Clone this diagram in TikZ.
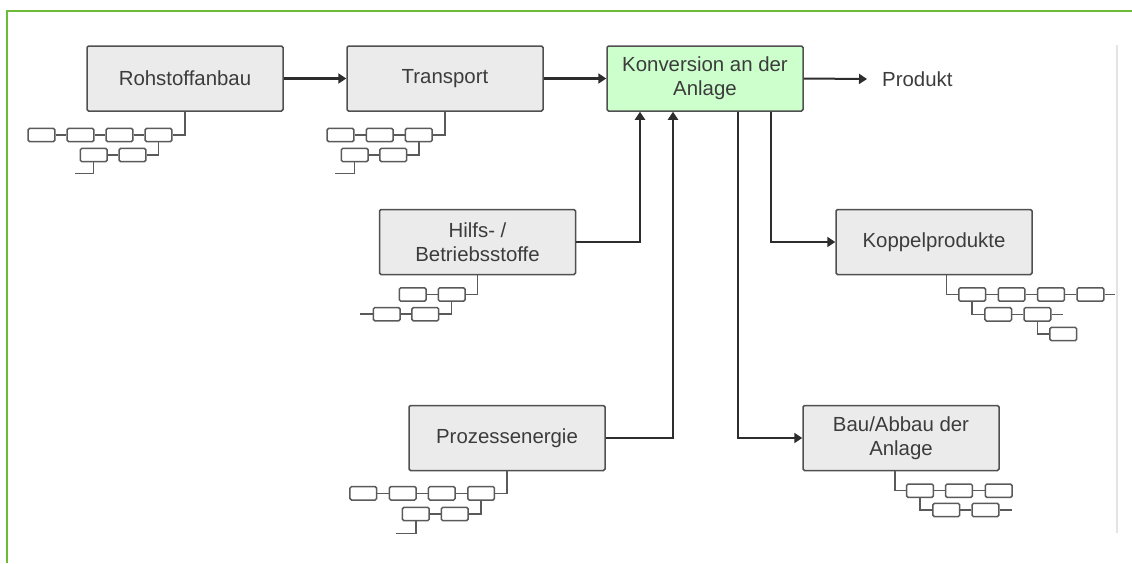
\documentclass[tikz,border=0pt]{standalone}
\usepackage{fontspec}
\setmainfont{Liberation Sans}
\usetikzlibrary{arrows.meta,calc}

\definecolor{frame}{RGB}{108,187,56}
\definecolor{boxline}{RGB}{80,80,80}
\definecolor{boxfill}{RGB}{235,235,235}
\definecolor{convfill}{RGB}{204,255,204}
\definecolor{txt}{RGB}{60,60,60}
\definecolor{wire}{RGB}{45,45,45}
\definecolor{cellline}{RGB}{90,90,90}
\definecolor{rule}{RGB}{228,228,228}

\tikzset{
  stage/.style={draw=boxline, line width=1.5pt, fill=boxfill, rounded corners=1.5pt,
    minimum width=196pt, minimum height=65pt, inner sep=2pt, align=center,
    text=txt, font=\fontsize{20.4}{24}\selectfont},
  cell/.style={draw=cellline, line width=1.5pt, fill=white, rounded corners=1.5pt,
    minimum width=26.7pt, minimum height=13.4pt, inner sep=0pt},
  link/.style={draw=cellline, line width=1.5pt},
  arr/.style={draw=wire, line width=2.3pt, -{Triangle[length=8pt,width=10pt]}},
  plain/.style={text=txt, font=\fontsize{20.4}{24}\selectfont, inner sep=0pt}
}

\begin{document}
\begin{tikzpicture}[x=1pt,y=-1pt]
\useasboundingbox (0,0) rectangle (1132,563);

% frame lines
\draw[frame, line width=2.5pt] (7,563) -- (7,11) -- (1132,11);
\draw[rule, line width=2pt] (1117,45) -- (1117,533);

% process stages
\node[stage] (roh)   at (185,78.5)  {Rohstoffanbau};
\node[stage] (tra)   at (445,78.5)  {Transport};
\node[stage, fill=convfill] (kon) at (705,78.5) {Konversion an der\\Anlage};
\node[stage] (hilfs) at (477.5,242) {Hilfs- /\\Betriebsstoffe};
\node[stage] (kop)   at (934,242)   {Koppelprodukte};
\node[stage] (proz)  at (507,438)   {Prozessenergie};
\node[stage] (bau)   at (901,438)   {Bau/Abbau der\\Anlage};
\node[plain, anchor=west] (prod) at (882,79) {Produkt};

% main flow
\draw[arr] (roh.east) -- (tra.west);
\draw[arr] (tra.east) -- (kon.west);
\draw[arr, line width=2pt] (kon.east) -- ([xshift=-15pt]prod.west);
\draw[arr] (hilfs.east) -| ([xshift=-65pt]kon.south);
\draw[arr] (proz.east) -| ([xshift=-32pt]kon.south);
\draw[arr] ([xshift=66pt]kon.south) |- (kop.west);
\draw[arr] ([xshift=33pt]kon.south) |- (bau.west);

% sub-chain: Rohstoffanbau
\foreach \n/\x in {1/41.5,2/80.5,3/119.5,4/158.5} \node[cell] (ra1\n) at (\x,135) {};
\foreach \n/\x in {1/93.7,2/132.5} \node[cell] (ra2\n) at (\x,155) {};
\draw[link] (ra11) -- (ra12) (ra12) -- (ra13) (ra13) -- (ra14) (ra21) -- (ra22);
\draw[link] (ra14.east) -| (roh.south);
\draw[link] (ra22.east) -| (ra14.south);
\coordinate (ratail) at (75,173.3);
\draw[link] (ra21.south) |- (ratail);

% sub-chain: Transport
\foreach \n/\x in {1/340.5,2/379.7,3/418.8} \node[cell] (tr1\n) at (\x,135) {};
\foreach \n/\x in {1/354.7,2/393.3} \node[cell] (tr2\n) at (\x,155) {};
\draw[link] (tr11) -- (tr12) (tr12) -- (tr13) (tr21) -- (tr22);
\draw[link] (tr13.east) -| (tra.south);
\draw[link] (tr22.east) -| (tr13.south);
\coordinate (trtail) at (335,173.3);
\draw[link] (tr21.south) |- (trtail);

% sub-chain: Hilfs-/Betriebsstoffe
\foreach \n/\x in {1/412.7,2/451.7} \node[cell] (hb1\n) at (\x,294.5) {};
\foreach \n/\x in {1/386.7,2/425.3} \node[cell] (hb2\n) at (\x,314.2) {};
\draw[link] (hb11) -- (hb12) (hb21) -- (hb22);
\draw[link] (hb12.east) -| (hilfs.south);
\draw[link] (hb22.east) -| (hb12.south);
\coordinate (hbtail) at (360,314.2);
\draw[link] (hbtail) -- (hb21.west);

% sub-chain: Koppelprodukte
\foreach \n/\x in {1/972.2,2/1011.6,3/1051,4/1090.4} \node[cell] (kp1\n) at (\x,294.5) {};
\foreach \n/\x in {1/998.3,2/1037.4} \node[cell] (kp2\n) at (\x,314.3) {};
\node[cell] (kp31) at (1063.3,334) {};
\draw[link] (kp11) -- (kp12) (kp12) -- (kp13) (kp13) -- (kp14) (kp21) -- (kp22);
\coordinate (kphead) at (946.7,275);
\draw[link] (kphead) |- (kp11.west);
\coordinate (kptail1) at (1115,294.5);
\draw[link] (kp14.east) -- (kptail1);
\draw[link] (kp11.south) |- (kp21.west);
\coordinate (kptail2) at (1063.3,314.3);
\draw[link] (kp22.east) -- (kptail2);
\draw[link] (kp22.south) |- (kp31.west);

% sub-chain: Prozessenergie
\foreach \n/\x in {1/363.3,2/402.7,3/441.8,4/481.1} \node[cell] (pe1\n) at (\x,493.3) {};
\foreach \n/\x in {1/415.8,2/454.7} \node[cell] (pe2\n) at (\x,514) {};
\draw[link] (pe11) -- (pe12) (pe12) -- (pe13) (pe13) -- (pe14) (pe21) -- (pe22);
\draw[link] (pe14.east) -| (proz.south);
\draw[link] (pe22.east) -| (pe14.south);
\coordinate (petail) at (396,533.3);
\draw[link] (pe21.south) |- (petail);

% sub-chain: Bau/Abbau der Anlage
\foreach \n/\x in {1/920,2/959,3/998.7} \node[cell] (bb1\n) at (\x,490.7) {};
\foreach \n/\x in {1/946.3,2/985.4} \node[cell] (bb2\n) at (\x,510) {};
\draw[link] (bb11) -- (bb12) (bb12) -- (bb13) (bb21) -- (bb22);
\coordinate (bbhead) at (895,471);
\draw[link] (bbhead) |- (bb11.west);
\draw[link] (bb11.south) |- (bb21.west);
\coordinate (bbtail) at (1011.7,510);
\draw[link] (bb22.east) -- (bbtail);
\end{tikzpicture}
\end{document}
